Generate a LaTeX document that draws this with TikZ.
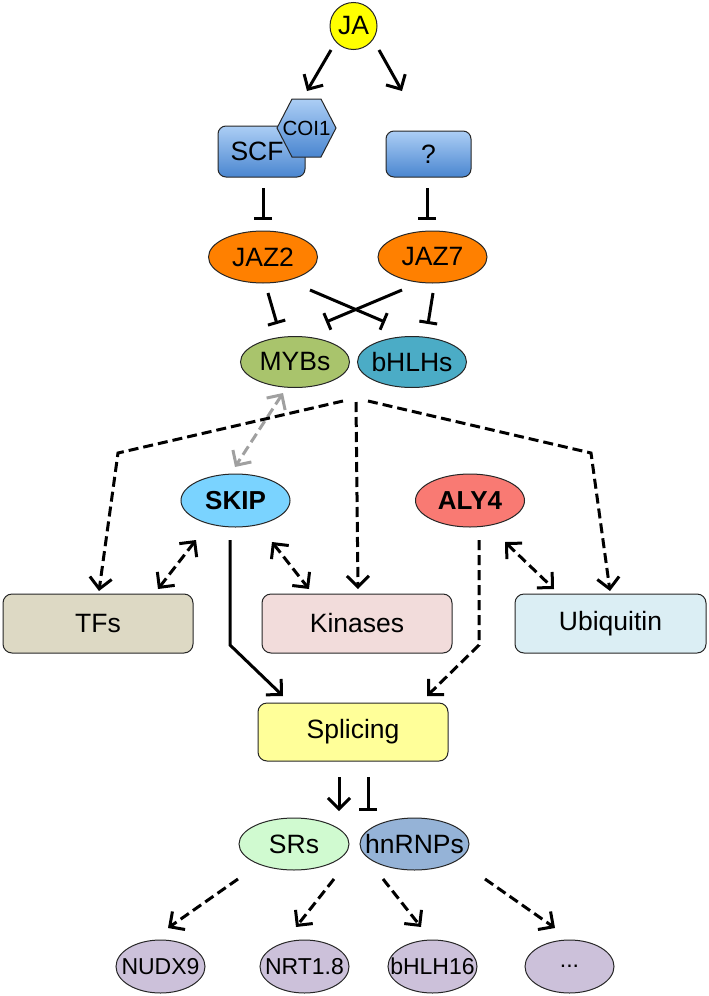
\documentclass[tikz,border=0pt]{standalone}
\usepackage{fontspec}
\setmainfont{Liberation Sans}
\usetikzlibrary{shapes.geometric,arrows.meta}

\definecolor{jayellow}{RGB}{255,255,0}
\definecolor{bluetop}{RGB}{172,206,245}
\definecolor{bluebot}{RGB}{74,134,208}
\definecolor{jazorange}{RGB}{255,128,0}
\definecolor{mybgreen}{RGB}{169,196,108}
\definecolor{bhlhblue}{RGB}{75,172,198}
\definecolor{skipblue}{RGB}{122,211,255}
\definecolor{alyred}{RGB}{249,122,115}
\definecolor{tfsfill}{RGB}{221,217,196}
\definecolor{kinfill}{RGB}{242,220,219}
\definecolor{ubqfill}{RGB}{219,238,244}
\definecolor{splfill}{RGB}{255,255,153}
\definecolor{srsfill}{RGB}{208,250,208}
\definecolor{hnrfill}{RGB}{149,179,215}
\definecolor{tgtfill}{RGB}{204,193,218}
\definecolor{linkgray}{RGB}{160,160,160}

\tikzset{
  base/.style={draw=black!85,line width=1pt,inner sep=0pt,
    font=\fontsize{26.5}{30}\selectfont},
  % text kept out of the shape size, so the ellipse keeps its given size
  flat/.style={execute at begin node={\hbox to 0pt\bgroup\hss},
    execute at end node={\hss\egroup}},
  oval/.style={base,flat,ellipse,minimum width=109pt,minimum height=52pt},
  target/.style={base,flat,ellipse,minimum width=89pt,minimum height=53pt,
    fill=tgtfill,font=\fontsize{23}{28}\selectfont},
  bluebox/.style={base,rounded corners=8pt,top color=bluetop,bottom color=bluebot},
  catbox/.style={base,rounded corners=9pt,minimum width=190pt,minimum height=59pt},
  act/.style={line width=3pt,-{Straight Barb[length=11pt,width=22pt]}},
  both/.style={line width=3pt,
    {Straight Barb[length=11pt,width=22pt]}-{Straight Barb[length=11pt,width=22pt]}},
  inh/.style={line width=3pt,-{Bar[width=18pt]}},
  dashline/.style={dash pattern=on 10pt off 5pt},
}

\begin{document}
\begin{tikzpicture}[x=1pt,y=-1pt]
  \useasboundingbox (0,0) rectangle (709,996);

  % receptor part
  \node[base,flat,circle,fill=jayellow,minimum size=47pt] (ja) at (353.5,26) {JA};
  \node[bluebox,flat,minimum width=87pt,minimum height=51pt] (scf) at (261.5,151.5)
    {\hspace*{-9pt}SCF};
  \coordinate (coihex) at (306.5,128);
  \draw[line width=1pt,draw=black!85,top color=bluetop,bottom color=bluebot]
    (coihex) ++(-29.5,0) -- ++(15,-29) -- ++(29,0) -- ++(15,29)
    -- ++(-15,29) -- ++(-29,0) -- cycle;
  \node[font=\fontsize{20.5}{24}\selectfont] (coi) at (coihex) {COI1};
  \node[bluebox,minimum width=85pt,minimum height=46pt] (q) at (428.5,154) {?};

  \node[oval,fill=jazorange] (jaz2) at (263,257) {JAZ2};
  \node[oval,fill=jazorange] (jaz7) at (432.5,257) {JAZ7};
  \node[oval,fill=mybgreen,minimum height=51pt] (myb) at (295,362) {MYBs};
  \node[oval,fill=bhlhblue,minimum height=51pt] (bhlh) at (412,362) {bHLHs};

  % middle part
  \node[oval,fill=skipblue,minimum height=53pt,font=\fontsize{26}{30}\selectfont\bfseries]
    (skip) at (235.5,500.5) {SKIP};
  \node[oval,fill=alyred,minimum height=53pt,font=\fontsize{26}{30}\selectfont\bfseries]
    (aly) at (470,500.5) {ALY4};
  \node[catbox,fill=tfsfill] (tfs) at (98,623.5) {TFs};
  \node[catbox,fill=kinfill] (kin) at (357,623.5) {Kinases};
  \node[catbox,fill=ubqfill,minimum width=191pt] (ubq) at (610.5,623.5) {Ubiquitin};
  \node[catbox,fill=splfill,minimum height=58pt] (spl) at (353,732) {Splicing};

  % splicing factors and targets
  \node[oval,fill=srsfill,minimum width=110pt] (srs) at (294,844) {SRs};
  \node[oval,fill=hnrfill] (hnr) at (414.5,844) {hnRNPs};
  \node[target] (nudx) at (160.5,966.5) {NUDX9};
  \node[target] (nrt) at (304.5,966.5) {NRT1.8};
  \node[target] (bhlh16) at (432.5,966.5) {bHLH16};
  \node[target] (dots) at (569.5,966.5) {...};

  % connectors
  \draw[act] ([shift={(-22.5,24)}]ja.center) -- ([shift={(45.5,-60.5)}]scf.center);
  \draw[act] ([shift={(25.5,24)}]ja.center) -- ([shift={(-26.5,-63)}]q.center);
  \draw[inh] ([shift={(1.5,36.5)}]scf.center) -- ([shift={(0,-37)}]jaz2.center);
  \draw[inh] ([shift={(-1.5,34)}]q.center) -- ([shift={(-5.5,-37)}]jaz7.center);
  \draw[inh] ([shift={(5,36)}]jaz2.center) -- ([shift={(-18,-38)}]myb.center);
  \draw[inh] ([shift={(47,33)}]jaz2.center) -- ([shift={(-27,-40)}]bhlh.center);
  \draw[inh] ([shift={(-30.5,33)}]jaz7.center) -- ([shift={(31,-40)}]myb.center);
  \draw[inh] ([shift={(0.5,36)}]jaz7.center) -- ([shift={(16,-38)}]bhlh.center);

  \draw[both,dashline,linkgray] ([shift={(-12,31)}]myb.center) -- ([shift={(-0.5,-33.5)}]skip.center);
  \draw[act,dashline] ([shift={(48,39)}]myb.center) -- ([shift={(20,-170.5)}]tfs.center)
    -- ([shift={(1,-32.5)}]tfs.center);
  \draw[act,dashline] ([shift={(-56,40)}]bhlh.center) -- ([shift={(1,-34.5)}]kin.center);
  \draw[act,dashline] ([shift={(-44,39)}]bhlh.center) -- ([shift={(-19.5,-170.5)}]ubq.center)
    -- ([shift={(-0.5,-32.5)}]ubq.center);

  \draw[both,dashline] ([shift={(-39.5,39.5)}]skip.center) -- ([shift={(60,-34.5)}]tfs.center);
  \draw[both,dashline] ([shift={(36.5,41.5)}]skip.center) -- ([shift={(-48,-34.5)}]kin.center);
  \draw[both,dashline] ([shift={(35,41.5)}]aly.center) -- ([shift={(-56.5,-34.5)}]ubq.center);

  \draw[act] ([shift={(-5.5,39.5)}]skip.center) -- ([shift={(-5.5,144.5)}]skip.center)
    -- ([shift={(-70,-36)}]spl.center);
  \draw[act,dashline] ([shift={(9,39.5)}]aly.center) -- ([shift={(9,144.5)}]aly.center)
    -- ([shift={(74,-36)}]spl.center);

  \draw[act] ([shift={(-14,45)}]spl.center) -- ([shift={(45,-33)}]srs.center);
  \draw[inh] ([shift={(15,45)}]spl.center) -- ([shift={(-46.5,-33)}]hnr.center);

  \draw[act,dashline] ([shift={(-56,35)}]srs.center) -- ([shift={(7.5,-38.5)}]nudx.center);
  \draw[act,dashline] ([shift={(40,35)}]srs.center) -- ([shift={(-8.5,-39.5)}]nrt.center);
  \draw[act,dashline] ([shift={(-31.5,35)}]hnr.center) -- ([shift={(-11.5,-39.5)}]bhlh16.center);
  \draw[act,dashline] ([shift={(70.5,35)}]hnr.center) -- ([shift={(-14.5,-38.5)}]dots.center);
\end{tikzpicture}
\end{document}
